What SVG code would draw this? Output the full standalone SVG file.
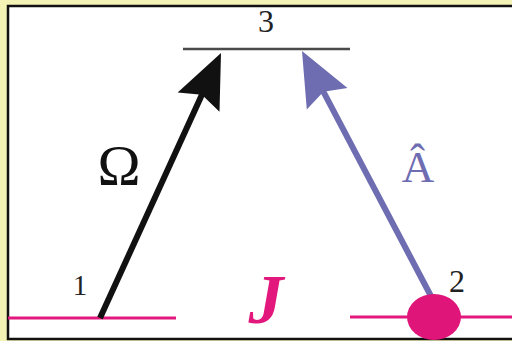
<svg xmlns="http://www.w3.org/2000/svg" width="512" height="341" viewBox="0 0 512 341">
<style>
.lbl{font-family:"Liberation Serif","Times New Roman",serif;}
.lvl{stroke:#e2187c;stroke-width:3;fill:none;}
</style>
<defs>
<marker id="ahBlack" markerUnits="userSpaceOnUse" markerWidth="80" markerHeight="80" refX="0" refY="0" orient="auto" overflow="visible">
<path d="M10,0 L-44,-23 L-36,0 L-44,23 Z" fill="#111"/>
</marker>
<marker id="ahBlue" markerUnits="userSpaceOnUse" markerWidth="80" markerHeight="80" refX="0" refY="0" orient="auto" overflow="visible">
<path d="M10,0 L-44,-23 L-36,0 L-44,23 Z" fill="#6e6db2"/>
</marker>
</defs>
<rect x="0" y="0" width="512" height="341" fill="#f3f3b6"/>
<rect x="8" y="6" width="520" height="333" fill="#ffffff" stroke="#111" stroke-width="2.5"/>
<g id="level3">
<line x1="183" y1="49" x2="350" y2="49" stroke="#4a4a4a" stroke-width="2.5"/>
<text class="lbl" x="266" y="32" font-size="32" text-anchor="middle" fill="#222">3</text>
</g>
<g id="level1">
<line class="lvl" x1="8" y1="318" x2="176" y2="318"/>
<text class="lbl" x="80" y="295" font-size="29" text-anchor="middle" fill="#222">1</text>
</g>
<g id="level2">
<line class="lvl" x1="350" y1="317" x2="512" y2="317"/>
<text class="lbl" x="457" y="292" font-size="32" text-anchor="middle" fill="#222">2</text>
</g>
<g id="connectors">
<line x1="100" y1="318" x2="216.85" y2="62.1" stroke="#111" stroke-width="6" marker-end="url(#ahBlack)"/>
<line x1="433" y1="300" x2="306.66" y2="59.85" stroke="#6e6db2" stroke-width="6" marker-end="url(#ahBlue)"/>
</g>
<g id="atom">
<ellipse cx="434" cy="317" rx="27" ry="23" fill="#e0157a"/>
</g>
<g id="labels">
<text class="lbl" x="119" y="185" font-size="58" text-anchor="middle" fill="#111">Ω</text>
<text class="lbl" x="418" y="182" font-size="45" text-anchor="middle" fill="#6e6db2">Â</text>
<text class="lbl" x="266" y="323" font-size="70" font-weight="bold" font-style="italic" text-anchor="middle" fill="#e2187c">J</text>
</g>
</svg>
